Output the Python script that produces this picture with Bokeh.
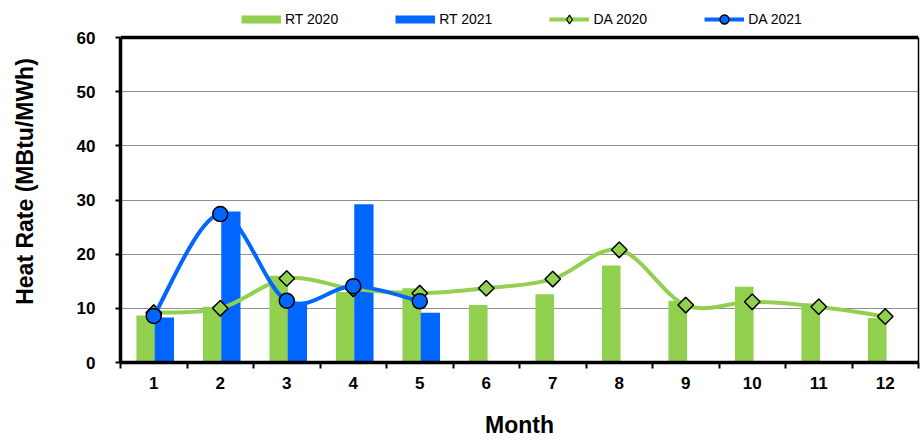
import math
from bokeh.plotting import figure
from bokeh.models import (ColumnDataSource, FixedTicker, Legend, LegendItem, Span, Range1d,
                          LinearAxis)
from bokeh.transform import dodge
from bokeh.embed import file_html
from bokeh.resources import INLINE

# ---- data ----
months = [1, 2, 3, 4, 5, 6, 7, 8, 9, 10, 11, 12]
rt_2020 = [8.7, 10.3, 16.0, 13.0, 13.7, 10.6, 12.6, 17.9, 11.4, 14.0, 10.9, 8.2]
months_2021 = [1, 2, 3, 4, 5]
rt_2021 = [8.3, 27.9, 11.1, 29.2, 9.2]
da_2020 = [9.2, 10.0, 15.5, 13.6, 12.8, 13.7, 15.4, 20.8, 10.6, 11.2, 10.3, 8.5]
da_2021 = [8.6, 27.4, 11.4, 14.1, 11.3]
y_ticks = [0, 10, 20, 30, 40, 50, 60]
boundaries = [0.5 + i for i in range(13)]

GREEN = "#92D050"
BLUE = "#0066FF"
FONT = "Liberation Sans"
NAN = float("nan")

# layout (pixels): plot frame spans 0..362 vertically, value 60 sits 37px below the top
FRAME_H = 362
Y_TOP_PX = 37
Y_MAX = 60
y_end = Y_MAX * FRAME_H / (FRAME_H - Y_TOP_PX)


def smooth_segments(xs, ys):
    """Bezier control points for a smoothed line through the data points."""
    pts = list(zip(xs, ys))
    n = len(pts)
    d = dict(x0=[], y0=[], x1=[], y1=[], cx0=[], cy0=[], cx1=[], cy1=[])
    for i in range(n - 1):
        p0 = pts[i - 1] if i > 0 else pts[i]
        p1 = pts[i]
        p2 = pts[i + 1]
        p3 = pts[i + 2] if i + 2 < n else pts[i + 1]
        d["x0"].append(p1[0]); d["y0"].append(p1[1])
        d["x1"].append(p2[0]); d["y1"].append(p2[1])
        d["cx0"].append(p1[0] + (p2[0] - p0[0]) / 6.0)
        d["cy0"].append(p1[1] + (p2[1] - p0[1]) / 6.0)
        d["cx1"].append(p2[0] - (p3[0] - p1[0]) / 6.0)
        d["cy1"].append(p2[1] - (p3[1] - p1[1]) / 6.0)
    return ColumnDataSource(d)


p = figure(width=920, height=441,
           x_range=Range1d(0.5, 12.5), y_range=Range1d(0, y_end),
           output_backend="svg", toolbar_location=None,
           min_border_left=120, min_border_right=2,
           min_border_top=0, min_border_bottom=79)

p.outline_line_color = None
p.background_fill_color = "white"
p.border_fill_color = "white"

# grid
p.xgrid.visible = False
p.ygrid.ticker = FixedTicker(ticks=y_ticks)
p.ygrid.grid_line_color = "#222222"
p.ygrid.grid_line_dash = "1 1"
p.ygrid.grid_line_width = 1

# y axis
ya = p.yaxis[0]
ya.ticker = FixedTicker(ticks=y_ticks)
ya.bounds = (0, Y_MAX)
ya.axis_line_width = 3.5
ya.axis_line_color = "black"
ya.major_tick_out = 5
ya.major_tick_in = 0
ya.major_tick_line_width = 2
ya.major_tick_line_color = "black"
ya.minor_tick_line_color = None
ya.major_label_text_font = FONT
ya.major_label_text_font_style = "bold"
ya.major_label_text_font_size = "17px"
ya.major_label_text_color = "black"
ya.major_label_standoff = 20
ya.axis_label = "Heat Rate (MBtu/MWh)"
ya.axis_label_text_font = FONT
ya.axis_label_text_font_style = "bold"
ya.axis_label_text_font_size = "23px"
ya.axis_label_text_color = "black"
ya.axis_label_standoff = 36

# right border of the plot area
ra = LinearAxis(ticker=FixedTicker(ticks=[]), bounds=(0, Y_MAX), axis_line_width=1.5,
                axis_line_color="black", major_tick_line_color=None,
                minor_tick_line_color=None, major_tick_out=0, major_tick_in=0,
                major_label_standoff=0, major_label_text_font_size="0px")
p.add_layout(ra, "right")

# x axis
xa = p.xaxis[0]
xa.ticker = FixedTicker(ticks=months, minor_ticks=boundaries)
xa.axis_line_width = 3.5
xa.axis_line_color = "black"
xa.major_tick_line_color = None
xa.major_tick_out = 6
xa.major_tick_in = 0
xa.minor_tick_out = 6
xa.minor_tick_in = 0
xa.minor_tick_line_width = 2
xa.minor_tick_line_color = "black"
xa.major_label_text_font = FONT
xa.major_label_text_font_style = "bold"
xa.major_label_text_font_size = "17px"
xa.major_label_text_color = "black"
xa.major_label_standoff = 8
xa.axis_label = "Month"
xa.axis_label_text_font = FONT
xa.axis_label_text_font_style = "bold"
xa.axis_label_text_font_size = "23px"
xa.axis_label_text_color = "black"
xa.axis_label_standoff = 20

# top border at 60
p.add_layout(Span(location=Y_MAX, dimension="width", line_color="black", line_width=3.5))

# bars
src_rt20 = ColumnDataSource(dict(month=months, val=rt_2020))
src_rt21 = ColumnDataSource(dict(month=months_2021, val=rt_2021))
p.vbar(x=dodge("month", -0.12), top="val", bottom=0, width=0.28, source=src_rt20,
       fill_color=GREEN, line_color=None)
p.vbar(x=dodge("month", 0.16), top="val", bottom=0, width=0.29, source=src_rt21,
       fill_color=BLUE, line_color=None)

# smoothed lines + markers
p.bezier(x0="x0", y0="y0", x1="x1", y1="y1", cx0="cx0", cy0="cy0", cx1="cx1", cy1="cy1",
         source=smooth_segments(months, da_2020), line_color=GREEN, line_width=4,
         line_cap="round")
p.scatter(x=months, y=da_2020, marker="square", size=11, angle=math.pi / 4,
          fill_color=GREEN, line_color="black", line_width=1.5)
p.bezier(x0="x0", y0="y0", x1="x1", y1="y1", cx0="cx0", cy0="cy0", cx1="cx1", cy1="cy1",
         source=smooth_segments(months_2021, da_2021), line_color=BLUE, line_width=4,
         line_cap="round")
da21_pts = p.scatter(x=months_2021, y=da_2021, marker="circle", size=15,
                     fill_color=BLUE, line_color="black", line_width=1.5)

# legend proxies (no visible data)
lg_rt20 = p.line(x=[months[0]], y=[NAN], line_color=GREEN, line_width=8)
lg_rt21 = p.line(x=[months[0]], y=[NAN], line_color=BLUE, line_width=8)
lg_da20 = p.line(x=[months[0]], y=[NAN], line_color=GREEN, line_width=4)
lg_da21 = p.line(x=[months[0]], y=[NAN], line_color=BLUE, line_width=4)
lg_dia = p.scatter(x=[months[0]], y=[NAN], marker="diamond", fill_color=GREEN,
                   line_color="black", line_width=1.2)

legend = Legend(items=[
    LegendItem(label="RT 2020", renderers=[lg_rt20]),
    LegendItem(label="RT 2021", renderers=[lg_rt21]),
    LegendItem(label="DA 2020", renderers=[lg_da20, lg_dia]),
    LegendItem(label="DA 2021", renderers=[lg_da21, da21_pts]),
], orientation="horizontal", location=(121, 332), glyph_width=40, glyph_height=22,
    label_standoff=4, spacing=57, padding=0, margin=0, border_line_color=None,
    background_fill_alpha=0, label_text_font=FONT, label_text_font_size="14px",
    label_height=22, label_text_color="black")
p.add_layout(legend)

open("out.html", "w").write(file_html(p, INLINE))
